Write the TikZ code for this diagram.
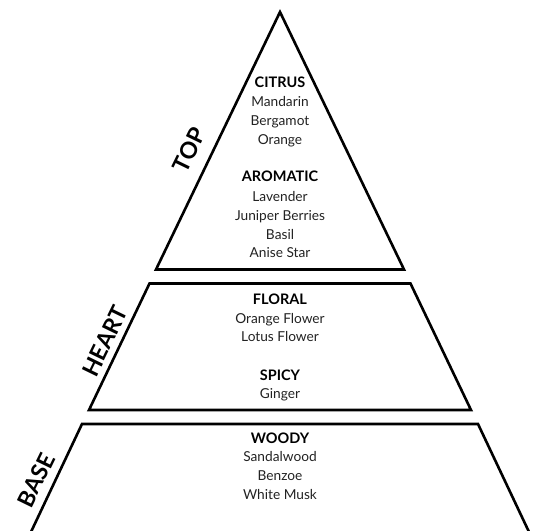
\documentclass[tikz,border=0pt]{standalone}
\usepackage{fontspec}
\setmainfont{Lato}
\definecolor{txtgray}{HTML}{222222}
\tikzset{
  layer/.style={draw=black, line width=2.6pt, line join=miter},
  head/.style={anchor=base, inner sep=0pt, font=\fontsize{14.5}{16}\selectfont\bfseries, text=black},
  item/.style={anchor=base, inner sep=0pt, font=\fontsize{13.7}{16}\selectfont, text=txtgray},
  tier/.style={anchor=center, inner sep=0pt, rotate=64, font=\fontsize{23}{26}\selectfont\bfseries, text=black}
}
\begin{document}
\begin{tikzpicture}[x=1pt, y=-1pt]
\useasboundingbox (0,0) rectangle (538,530);
% shapes
\coordinate (apex) at (280,12);
\coordinate (tl) at (156,269.5);
\coordinate (tr) at (404,269.5);
\coordinate (h1) at (149.5,283.5);
\coordinate (h2) at (410.5,283.5);
\coordinate (h3) at (471,410);
\coordinate (h4) at (89,410);
\coordinate (b1) at (82,424);
\coordinate (b2) at (478,424);
\coordinate (b0) at (30.5,533);
\coordinate (b3) at (529.5,533);
\draw[layer] (apex) -- (tr) -- (tl) -- cycle;
\draw[layer] (h1) -- (h2) -- (h3) -- (h4) -- cycle;
\draw[layer] (b0) -- (b1) -- (b2) -- (b3);
% tier labels
\node[tier] (ltop) at (189,150) {TOP};
\node[tier] (lheart) at (105,341) {HEART};
\node[tier] (lbase) at (36,480) {BASE};
% top
\node[head] (citrus) at (280,87.3) {CITRUS};
\node[item] (t1) at (280,106) {Mandarin};
\node[item] (t2) at (280,125) {Bergamot};
\node[item] (t3) at (280,144) {Orange};
\node[head] (aromatic) at (280,181.7) {AROMATIC};
\node[item] (a1) at (280,201) {Lavender};
\node[item] (a2) at (280,220) {Juniper Berries};
\node[item] (a3) at (280,239) {Basil};
\node[item] (a4) at (280,257.7) {Anise Star};
% heart
\node[head] (floral) at (280,304.3) {FLORAL};
\node[item] (f1) at (280,323.3) {Orange Flower};
\node[item] (f2) at (280,341.7) {Lotus Flower};
\node[head] (spicy) at (280,380) {SPICY};
\node[item] (s1) at (280,398.3) {Ginger};
% base
\node[head] (woody) at (280,443.3) {WOODY};
\node[item] (w1) at (280,461.7) {Sandalwood};
\node[item] (w2) at (280,480.7) {Benzoe};
\node[item] (w3) at (280,499.3) {White Musk};
\end{tikzpicture}
\end{document}
